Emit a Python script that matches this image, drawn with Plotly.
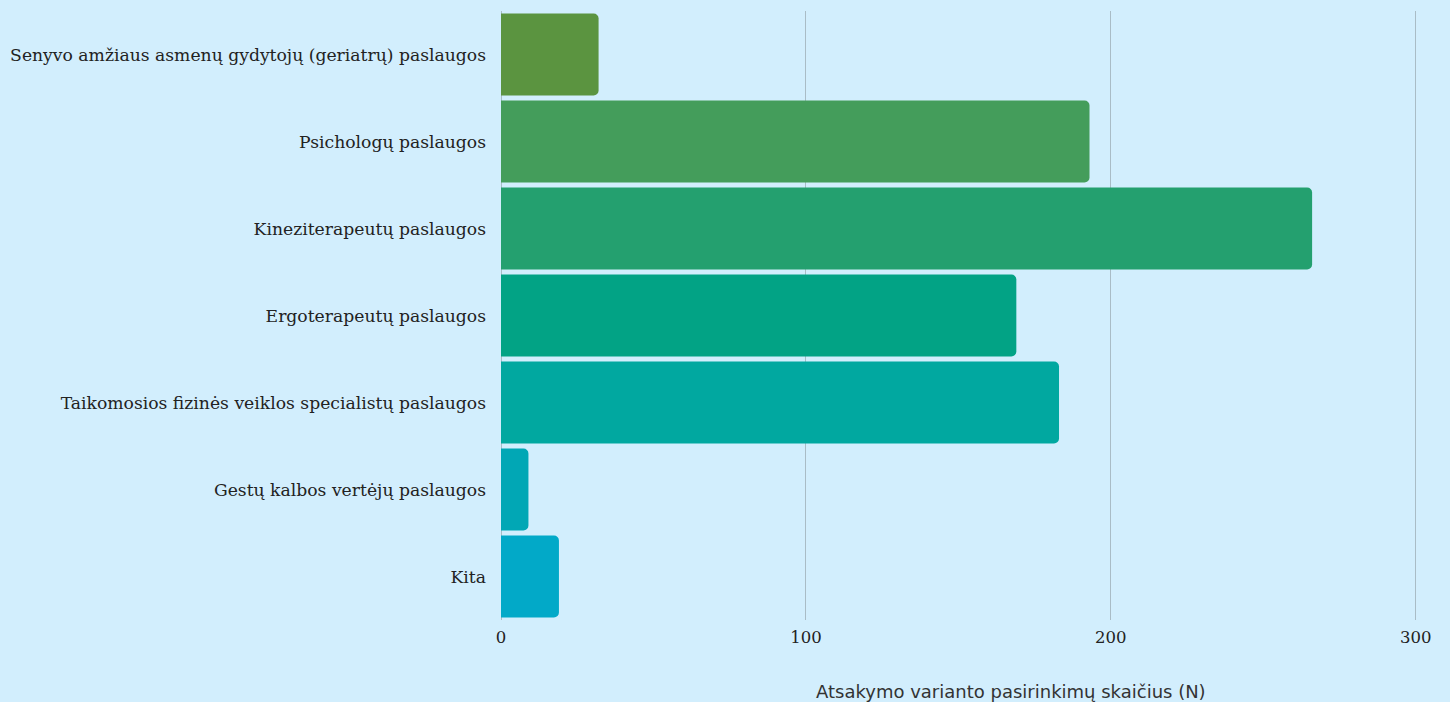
import plotly.graph_objects as go

categories = [
    "Senyvo amžiaus asmenų gydytojų (geriatrų) paslaugos",
    "Psichologų paslaugos",
    "Kineziterapeutų paslaugos",
    "Ergoterapeutų paslaugos",
    "Taikomosios fizinės veiklos specialistų paslaugos",
    "Gestų kalbos vertėjų paslaugos",
    "Kita",
]
values = [32, 193, 266, 169, 183, 9, 19]
colors = ["#5B9440", "#449D5B", "#24A06F", "#02A385", "#01A8A0", "#01A7B5", "#02A9C8"]
tick_vals = [0, 100, 200, 300]
x_title = "Atsakymo varianto pasirinkimų skaičius (N)"

fig = go.Figure(go.Bar(
    y=categories,
    x=values,
    orientation="h",
    marker=dict(color=colors, cornerradius=5, line=dict(width=0)),
    hoverinfo="x+y",
))

fig.update_layout(
    width=1450, height=702,
    paper_bgcolor="#D2EEFD",
    plot_bgcolor="#D2EEFD",
    margin=dict(l=501, r=33, t=11, b=82),
    bargap=0.06,
    showlegend=False,
    font=dict(family="DejaVu Serif, Liberation Serif, serif", color="#222222", size=16),
)
fig.update_yaxes(
    autorange="reversed",
    showgrid=False,
    ticks="",
    ticklabelstandoff=14,
    tickfont=dict(family="DejaVu Serif, Liberation Serif, serif", size=17.2, color="#222222"),
    automargin=False,
)
fig.update_xaxes(
    range=[0, 300.4],
    tickvals=tick_vals,
    showgrid=True,
    gridcolor="#A9BCC6",
    gridwidth=1,
    zeroline=True,
    zerolinecolor="#A9BCC6",
    zerolinewidth=1,
    ticks="",
    ticklabelstandoff=5,
    tickfont=dict(family="DejaVu Serif, Liberation Serif, serif", size=16.5, color="#222222"),
    automargin=False,
)
fig.add_annotation(
    text=x_title,
    xref="paper", yref="paper",
    x=0.557, y=-0.118,
    xanchor="center", yanchor="middle",
    showarrow=False,
    font=dict(family="DejaVu Sans, Open Sans, sans-serif", size=18, color="#333333"),
)

fig.write_html(
    "out.html",
    config={"displayModeBar": False},
    post_script="document.body.style.margin='0';document.body.style.background='#D2EEFD';",
)
